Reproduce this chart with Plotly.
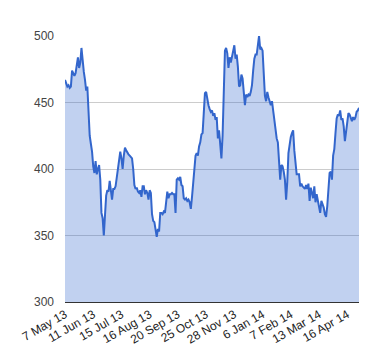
import plotly.graph_objects as go

tick_labels = ["7 May 13", "11 Jun 13", "15 Jul 13", "16 Aug 13", "20 Sep 13",
               "25 Oct 13", "28 Nov 13", "6 Jan 14", "7 Feb 14", "13 Mar 14", "16 Apr 14"]
tick_every = 24

prices = [
    467, 465, 462, 463, 461, 462, 474, 472, 470, 472,
    480, 484, 476, 480, 491, 478, 473, 467, 459, 462,
    445, 425, 419, 413, 402, 397, 406, 396, 400, 403,
    392, 367, 363, 350, 365, 380, 384, 383, 391, 384,
    377, 385, 385, 387, 394, 398, 404, 413, 408, 400,
    410, 416, 414, 412, 411, 410, 409, 408, 400, 388,
    385, 386, 383, 382, 384, 379, 387, 387, 381, 384,
    382, 377, 384, 382, 366, 361, 360, 355, 349, 355,
    353, 367, 367, 366, 368, 367, 374, 383, 378, 381,
    381, 382, 381, 381, 367, 392, 393, 392, 394, 388,
    387, 378, 377, 378, 376, 377, 375, 370, 379, 388,
    397, 410, 412, 410, 417, 420, 426, 427, 442, 457,
    458, 452, 448, 445, 443, 444, 440, 442, 437, 439,
    423, 429, 415, 408, 425, 467, 489, 491, 487, 476,
    484, 480, 484, 488, 493, 483, 486, 477, 462, 463,
    471, 468, 458, 448, 456, 454, 456, 455, 458, 463,
    474, 483, 486, 486, 493, 500, 490, 491, 489, 470,
    455, 451, 458, 454, 451, 448, 451, 443, 436, 426,
    423, 420, 400, 392, 403, 402, 398, 392, 377, 390,
    412, 419, 424, 427, 429, 414, 405, 396, 396, 396,
    387, 389, 387, 386, 385, 388, 385, 389, 376, 386,
    382, 378, 387, 375, 381, 377, 373, 367, 376, 374,
    371, 366, 364, 372, 386, 397, 398, 392, 410, 415,
    427, 438, 441, 440, 444, 437, 438, 432, 421, 427,
    436, 442, 441, 439, 436, 439, 437, 439, 443, 444,
    446,
]

y_ticks = [300, 350, 400, 450, 500]

idx = list(range(len(prices)))
tickvals = [i * tick_every for i in range(len(tick_labels))]

fig = go.Figure(go.Scatter(
    x=idx, y=prices, mode="lines",
    line=dict(color="#3366CC", width=2),
    fill="tozeroy", fillcolor="rgba(51,102,204,0.3)",
    hoverinfo="skip",
))

# page body has an 8px default margin, so the figure is 8px smaller
fig.update_layout(
    width=372, height=352,
    margin=dict(l=51, r=21, t=28, b=58),
    paper_bgcolor="white", plot_bgcolor="white",
    showlegend=False,
    font=dict(family="Arial, Liberation Sans, sans-serif", size=12, color="#222"),
    xaxis=dict(
        range=[0, len(prices) - 1],
        tickvals=tickvals, ticktext=tick_labels,
        tickangle=-30, showgrid=False, zeroline=False,
        showline=True, linecolor="#333", linewidth=1,
        ticks="", tickfont=dict(size=12, color="#222"),
    ),
    yaxis=dict(
        range=[300, 500], tickvals=y_ticks,
        showgrid=True, gridcolor="#CCCCCC", gridwidth=1,
        zeroline=False, ticks="", ticklabelstandoff=10,
        tickfont=dict(size=12, color="#444"),
    ),
)

fig.write_html("out.html")
